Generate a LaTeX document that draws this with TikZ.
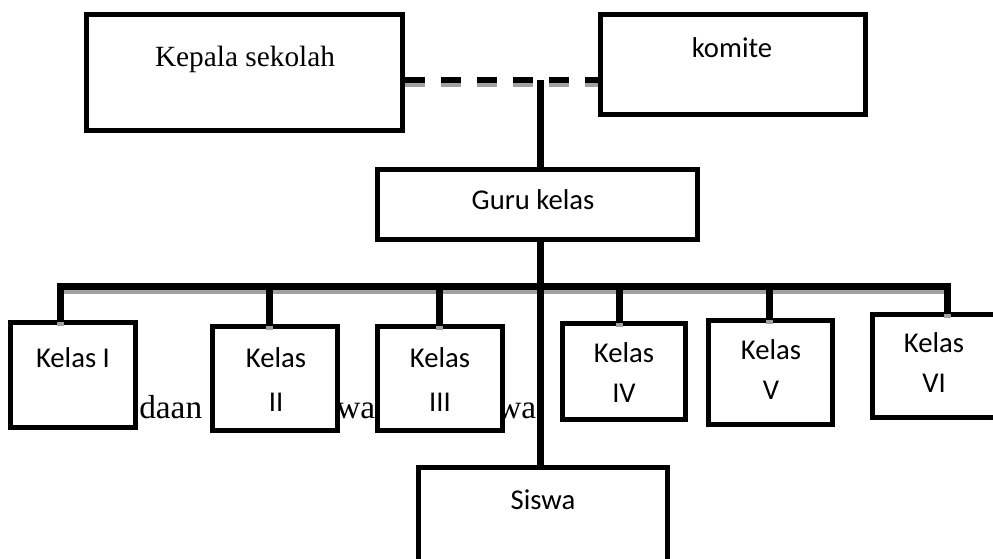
\documentclass[tikz,border=0pt]{standalone}
\usepackage{fontspec}
\setmainfont{Liberation Serif}
\newfontfamily\calfont{Carlito}
\definecolor{shadowgray}{HTML}{A0A0A0}
\begin{document}
\begin{tikzpicture}[x=0.75pt,y=-0.75pt,
  box/.style 2 args={draw=black, fill=white, line width=3.75pt, inner sep=0pt,
    minimum width=#1*0.75pt, minimum height=#2*0.75pt},
  lbl/.style={font=\calfont\fontsize{21.5}{26}\selectfont, anchor=base, inner sep=0pt},
  srf/.style={font=\fontsize{22}{26}\selectfont, anchor=base, inner sep=0pt},
  bgtext/.style={font=\fontsize{25}{30}\selectfont, anchor=base west, inner sep=0pt},
  conn/.style={line width=5.25pt, line join=miter},
  shad/.style={line width=5.25pt, line join=miter, draw=shadowgray},
  dashline/.style={line width=4.5pt, dash pattern=on 15pt off 12pt}
]
\useasboundingbox (0,0) rectangle (993,559);
\clip (0,0) rectangle (993,559);

% background text partly hidden by the boxes
\node[bgtext] (bt1) at (139,419) {daan};
\node[bgtext] (bt2) at (336,419) {wa};
\node[bgtext] (bt3) at (497,419) {wa};

% boxes
\node[box={316}{116}] (kep) at (244.5,72.5) {};
\node[box={265}{100}] (kom) at (733,64.5) {};
\node[box={320}{70}] (guru) at (537.5,204.5) {};
\node[box={125}{105}] (k1) at (73,375) {};
\node[box={125}{104}] (k2) at (275,378.5) {};
\node[box={125}{104}] (k3) at (440,378.5) {};
\node[box={123}{96}] (k4) at (624,371.5) {};
\node[box={124}{104}] (k5) at (770.5,372.5) {};
\node[box={125}{103}] (k6) at (935,366) {};
\node[box={249}{112}] (sis) at (543,523.5) {};

% labels
\node[srf] (tkep) at (245,67) {Kepala sekolah};
\node[lbl] (tkom) at (732,58) {komite};
\node[lbl] (tguru) at (533,210) {Guru kelas};
\node[lbl] (tk1) at (73,368) {Kelas I};
\node[lbl] (tk2a) at (276,368) {Kelas};
\node[lbl] (tk2b) at (276,412) {II};
\node[lbl] (tk3a) at (440,368) {Kelas};
\node[lbl] (tk3b) at (440,412) {III};
\node[lbl] (tk4a) at (624,363) {Kelas};
\node[lbl] (tk4b) at (624,403) {IV};
\node[lbl] (tk5a) at (771,360) {Kelas};
\node[lbl] (tk5b) at (771,400) {V};
\node[lbl] (tk6a) at (934,353) {Kelas};
\node[lbl] (tk6b) at (934,393) {VI};
\node[lbl] (tsis) at (543,510) {Siswa};

% junction points
\coordinate (dj) at (540,80);
\coordinate (c1) at (60,287);
\coordinate (c2) at (269,287);
\coordinate (c3) at (439,287);
\coordinate (c4) at (619,284);
\coordinate (c5) at (769,287);
\coordinate (c6) at (947,287);

% shadows
\begin{scope}[transform canvas={yshift=-3pt}]
  \draw[shad] (c1 |- k1.north) ++(0,2.5) -- (c1) -- (c6) -- (c6 |- k6.north) -- ++(0,2.5);
  \draw[shad] (c2) -- (c2 |- k2.north) -- ++(0,2.5);
  \draw[shad] (c3) -- (c3 |- k3.north) -- ++(0,2.5);
  \draw[shad] (c4) -- (c4 |- k4.north) -- ++(0,2.5);
  \draw[shad] (c5) -- (c5 |- k5.north) -- ++(0,2.5);
  \draw[dashline, shadowgray] (kep.east |- dj) -- (kom.west |- dj);
\end{scope}

% connectors
\draw[dashline] (kep.east |- dj) -- (kom.west |- dj);
\draw[conn] (dj) -- (dj |- guru.north);
\draw[conn] (dj |- guru.south) -- (dj |- sis.north);
\draw[conn] (c1 |- k1.north) ++(0,2.5) -- (c1) -- (c6) -- (c6 |- k6.north) -- ++(0,2.5);
\draw[conn] (c2) -- (c2 |- k2.north) -- ++(0,2.5);
\draw[conn] (c3) -- (c3 |- k3.north) -- ++(0,2.5);
\draw[conn] (c4) -- (c4 |- k4.north) -- ++(0,2.5);
\draw[conn] (c5) -- (c5 |- k5.north) -- ++(0,2.5);
\end{tikzpicture}
\end{document}
